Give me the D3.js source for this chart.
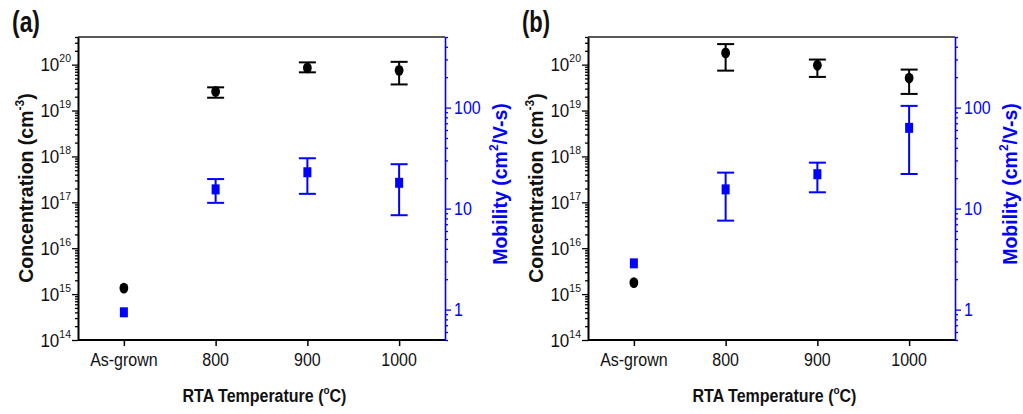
<!DOCTYPE html>
<html>
<head>
<meta charset="utf-8">
<script src="https://cdn.jsdelivr.net/npm/d3@7"></script>
<style>
  body { margin: 0; background: #fff; }
  svg { display: block; font-family: "Liberation Sans", Arial, sans-serif; }
</style>
</head>
<body>
<div id="chart"></div>
<script>
var categories = ['As-grown', '800', '900', '1000'];

// panel (a)
var concA   = [1.35e15, 2.6e19, 8.5e19, 7.5e19];
var concALo = [null, 1.9e19, 6.8e19, 3.7e19];
var concAHi = [null, 3.2e19, 1.12e20, 1.15e20];
var mobA    = [0.94, 15.5, 22.9, 18];
var mobALo  = [null, 11.4, 14, 8.6];
var mobAHi  = [null, 19.6, 31.5, 27.5];

// panel (b)
var concB   = [1.78e15, 1.8e20, 9.7e19, 5.1e19];
var concBLo = [null, 7.4e19, 5.4e19, 2.3e19];
var concBHi = [null, 2.8e20, 1.29e20, 7.8e19];
var mobB    = [2.87, 15.5, 21.9, 63];
var mobBLo  = [null, 7.6, 14.5, 22];
var mobBHi  = [null, 22.7, 28.5, 104];

var concDomain = [1e14, 4e20];
var mobDomain = [0.5, 500];
var concDecades = [14, 15, 16, 17, 18, 19, 20];
var mobLabels = [1, 10, 100];

var BLUE = '#0000ff';
var STRETCH = 1.1; // text in the source looks a bit taller than wide

var svg = d3.select('#chart').append('svg')
    .attr('width', 1023)
    .attr('height', 414);

function isMajor(d) {
  var l = Math.log10(d);
  return Math.abs(l - Math.round(l)) < 1e-6;
}

function logTicks(lo, hi) {
  var out = [];
  for (var e = Math.floor(Math.log10(lo)); e <= Math.ceil(Math.log10(hi)); e++) {
    for (var m = 1; m < 10; m++) {
      var v = m * Math.pow(10, e);
      if (v >= lo * 0.9999 && v <= hi * 1.0001) out.push(v);
    }
  }
  return out;
}

// horizontal text placed at (x,y), stretched vertically a little
function stretchedText(parent, x, y) {
  return parent.append('text')
    .attr('transform', 'translate(' + x + ',' + y + ') scale(1,' + STRETCH + ')');
}

function drawPanel(dx, label, conc, concLo, concHi, mob, mobLo, mobHi) {
  var left = 78 + dx, right = 445 + dx, top = 37, bottom = 340;
  var g = svg.append('g');

  var x = d3.scalePoint().domain(categories).range([left, right]).padding(0.5);
  var yL = d3.scaleLog().domain(concDomain).range([bottom, top]);
  var yR = d3.scaleLog().domain(mobDomain).range([bottom, top]);

  // top frame line
  g.append('line')
    .attr('x1', left).attr('x2', right)
    .attr('y1', top).attr('y2', top)
    .attr('stroke', '#222').attr('stroke-width', 1.5);

  // left axis
  var axL = g.append('g')
    .attr('transform', 'translate(' + left + ',0)')
    .call(d3.axisLeft(yL).tickValues(logTicks(concDomain[0], concDomain[1])).tickFormat('').tickSizeOuter(0));
  axL.select('.domain').attr('stroke', '#000').attr('stroke-width', 2);
  axL.selectAll('.tick line')
    .attr('stroke', '#000').attr('stroke-width', 1.3)
    .attr('x2', function(d) { return isMajor(d) ? -6 : -3; });

  concDecades.forEach(function(e) {
    var t = stretchedText(g, left - 7, yL(Math.pow(10, e)) + 6.5)
      .attr('text-anchor', 'end')
      .attr('fill', '#111');
    t.append('tspan').attr('font-size', 17).text('10');
    t.append('tspan').attr('font-size', 10.5).attr('dy', -8).text(e);
  });

  // right axis
  var axR = g.append('g')
    .attr('transform', 'translate(' + right + ',0)')
    .call(d3.axisRight(yR).tickValues(logTicks(mobDomain[0], mobDomain[1])).tickFormat('').tickSizeOuter(0));
  axR.select('.domain').attr('stroke', BLUE).attr('stroke-width', 1.6);
  axR.selectAll('.tick line')
    .attr('stroke', BLUE).attr('stroke-width', 1.3)
    .attr('x2', function(d) { return isMajor(d) ? 6 : 3; });

  mobLabels.forEach(function(v) {
    stretchedText(g, right + 9, yR(v) + 6.5)
      .attr('font-size', 16)
      .attr('fill', BLUE)
      .text(v);
  });

  // bottom axis
  var axB = g.append('g')
    .attr('transform', 'translate(0,' + bottom + ')')
    .call(d3.axisBottom(x).tickSize(6).tickSizeOuter(0).tickFormat(''));
  axB.select('.domain').attr('stroke', '#000').attr('stroke-width', 2)
    .attr('d', 'M' + left + ',0H' + right);
  axB.selectAll('.tick line').attr('stroke', '#000').attr('stroke-width', 1.5);

  categories.forEach(function(c) {
    stretchedText(g, x(c), 366)
      .attr('text-anchor', 'middle')
      .attr('font-size', 16)
      .attr('fill', '#111')
      .text(c);
  });

  // axis titles
  var xt = stretchedText(g, (left + right) / 2 + 3, 402)
    .attr('text-anchor', 'middle')
    .attr('font-size', 16)
    .attr('font-weight', 'bold')
    .attr('fill', '#111');
  xt.append('tspan').text('RTA Temperature (');
  xt.append('tspan').attr('font-size', 10).attr('dy', -7).text('o');
  xt.append('tspan').attr('dy', 7).text('C)');

  var lx = dx + 33, ly = 188;
  var lt = g.append('text')
    .attr('x', lx).attr('y', ly)
    .attr('transform', 'rotate(-90,' + lx + ',' + ly + ')')
    .attr('text-anchor', 'middle')
    .attr('font-size', 19.5)
    .attr('font-weight', 'bold')
    .attr('fill', '#111');
  lt.append('tspan').text('Concentration (cm');
  lt.append('tspan').attr('font-size', 12).attr('dy', -9).text('-3');
  lt.append('tspan').attr('dy', 9).text(')');

  var rx = dx + 507, ry = 184;
  var rt = g.append('text')
    .attr('x', rx).attr('y', ry)
    .attr('transform', 'rotate(-90,' + rx + ',' + ry + ')')
    .attr('text-anchor', 'middle')
    .attr('font-size', 19.5)
    .attr('font-weight', 'bold')
    .attr('fill', BLUE);
  rt.append('tspan').text('Mobility (cm');
  rt.append('tspan').attr('font-size', 12).attr('dy', -9).text('2');
  rt.append('tspan').attr('dy', 9).text('/V-s)');

  // panel label
  g.append('text')
    .attr('x', dx + 12)
    .attr('y', 32)
    .attr('font-size', 30)
    .attr('font-weight', 'bold')
    .attr('textLength', 28)
    .attr('lengthAdjust', 'spacingAndGlyphs')
    .attr('fill', '#111')
    .text(label);

  // error bars
  function errorBars(lo, hi, y, color) {
    var idx = d3.range(categories.length).filter(function(i) { return lo[i] != null; });
    var eb = g.append('g').attr('stroke', color).attr('stroke-width', 2);
    eb.selectAll('line.stem').data(idx).enter().append('line')
      .attr('class', 'stem')
      .attr('x1', function(i) { return x(categories[i]); })
      .attr('x2', function(i) { return x(categories[i]); })
      .attr('y1', function(i) { return y(lo[i]); })
      .attr('y2', function(i) { return y(hi[i]); });
    [lo, hi].forEach(function(arr) {
      eb.selectAll(null).data(idx).enter().append('line')
        .attr('x1', function(i) { return x(categories[i]) - 8.5; })
        .attr('x2', function(i) { return x(categories[i]) + 8.5; })
        .attr('y1', function(i) { return y(arr[i]); })
        .attr('y2', function(i) { return y(arr[i]); });
    });
  }

  errorBars(mobLo, mobHi, yR, BLUE);
  errorBars(concLo, concHi, yL, '#000');

  g.selectAll('rect.mob').data(mob).enter().append('rect')
    .attr('class', 'mob')
    .attr('x', function(d, i) { return x(categories[i]) - 4; })
    .attr('y', function(d) { return yR(d) - 5; })
    .attr('width', 8)
    .attr('height', 10)
    .attr('fill', BLUE);

  g.selectAll('ellipse.conc').data(conc).enter().append('ellipse')
    .attr('class', 'conc')
    .attr('cx', function(d, i) { return x(categories[i]); })
    .attr('cy', function(d) { return yL(d); })
    .attr('rx', 4.4)
    .attr('ry', 5.4)
    .attr('fill', '#000');
}

drawPanel(0, '(a)', concA, concALo, concAHi, mobA, mobALo, mobAHi);
drawPanel(510, '(b)', concB, concBLo, concBHi, mobB, mobBLo, mobBHi);
</script>
</body>
</html>
